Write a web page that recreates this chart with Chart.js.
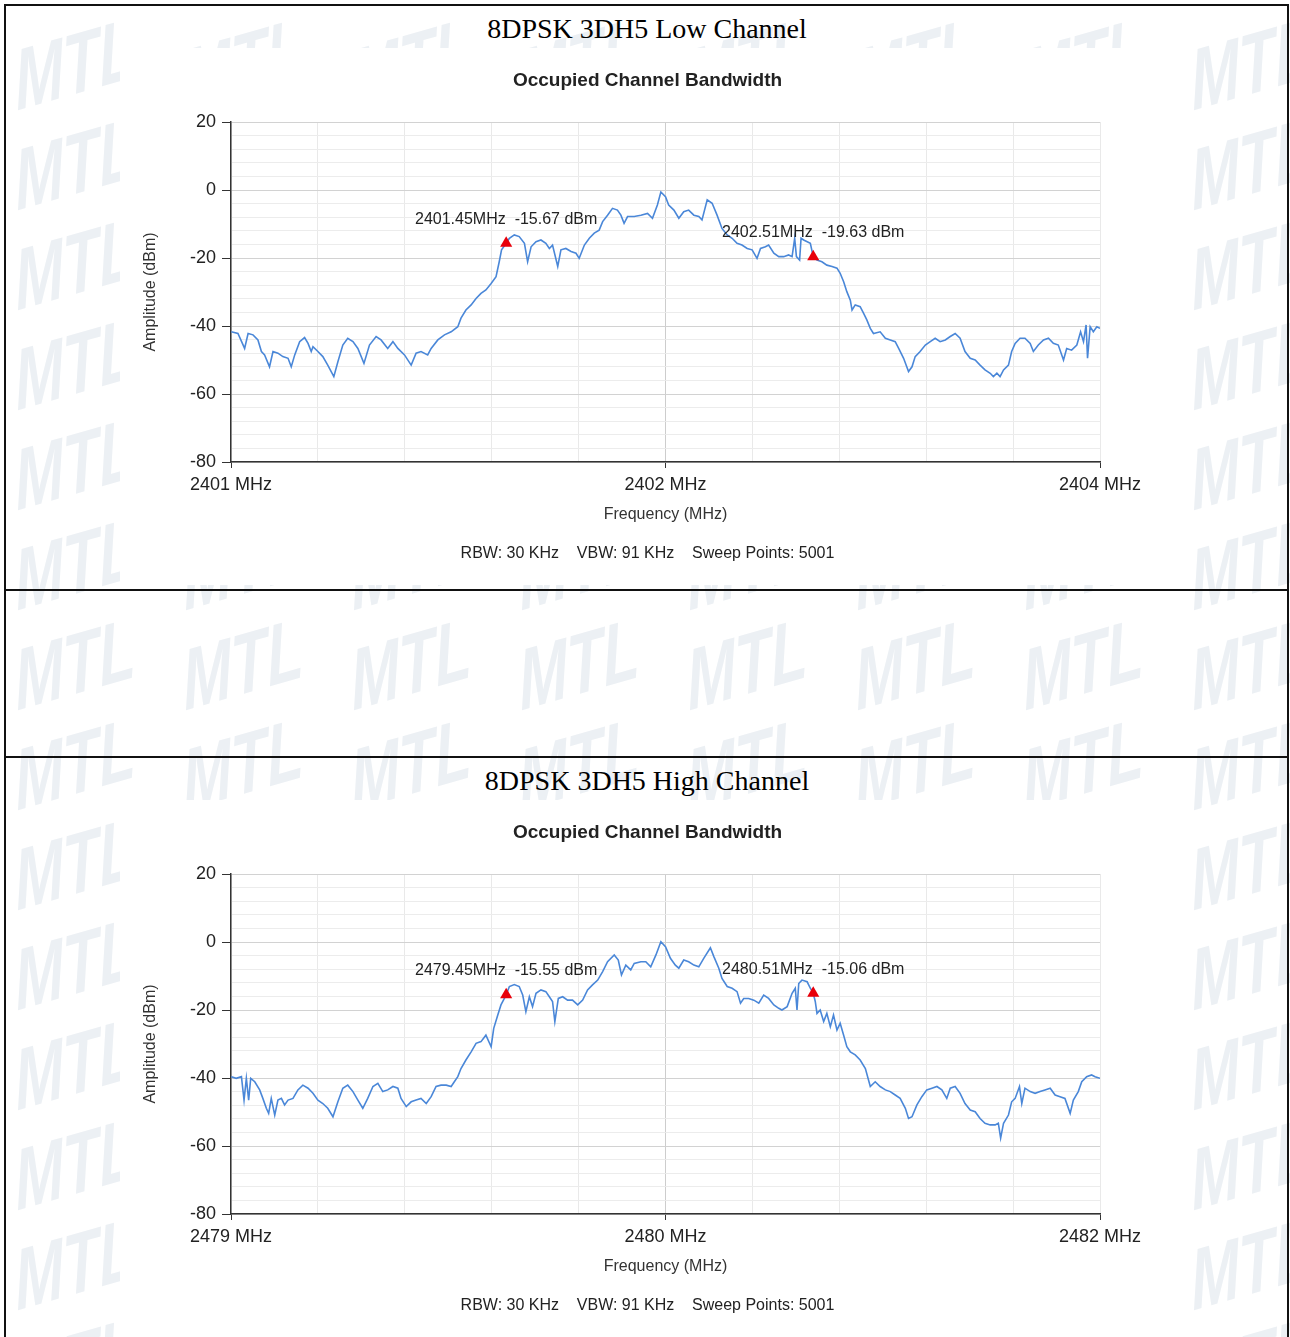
<!DOCTYPE html>
<html>
<head>
<meta charset="utf-8">
<script src="https://cdn.jsdelivr.net/npm/chart.js@4.4.1/dist/chart.umd.min.js"></script>
<style>
  html, body { margin: 0; padding: 0; background: #fff; }
  #page { position: relative; width: 1290px; height: 1337px; overflow: hidden; background: #fff; }
  #wm { position: absolute; left: 0; top: 0; width: 1290px; height: 1337px; }
  .wm {
    position: absolute; white-space: nowrap; line-height: 1;
    font: italic bold 84px "Liberation Sans", Arial, sans-serif; color: #ecf0f4;
    transform: rotate(-16deg) skewX(-12deg) scaleX(0.72); transform-origin: left center;
  }
  .hline { position: absolute; left: 4px; width: 1285px; height: 2px; background: #111; }
  .vline { position: absolute; top: 4px; width: 2px; height: 1333px; background: #111; }
  .head {
    position: absolute; left: 0; width: 1294px; text-align: center; line-height: 30px;
    font: 28px "Liberation Serif", "Times New Roman", serif; color: #000;
  }
  .cbox { position: absolute; left: 120px; width: 1055px; height: 537px; background: #fff; }
</style>
</head>
<body>
<div id="page">
  <div id="wm"></div>
  <div class="hline" style="top:4px"></div>
  <div class="hline" style="top:589px"></div>
  <div class="hline" style="top:756px"></div>
  <div class="vline" style="left:4px"></div>
  <div class="vline" style="left:1287px"></div>
  <div class="head" style="top:13px">8DPSK 3DH5 Low Channel</div>
  <div class="head" style="top:765px">8DPSK 3DH5 High Channel</div>
  <div class="cbox" style="top:48px"><canvas id="lowChart" width="1055" height="537"></canvas></div>
  <div class="cbox" style="top:800px"><canvas id="highChart" width="1055" height="537"></canvas></div>
</div>
<script>
'use strict';

// ---- low channel trace (MHz, dBm) ----
const lowFreq = [
  2400.501, 2400.524, 2400.547, 2400.559, 2400.576, 2400.593, 2400.605, 2400.616, 2400.633, 2400.645,
  2400.662, 2400.679, 2400.697, 2400.708, 2400.720, 2400.737, 2400.754, 2400.766, 2400.777, 2400.783,
  2400.800, 2400.817, 2400.834, 2400.855, 2400.869, 2400.886, 2400.903, 2400.921, 2400.938, 2400.959,
  2400.978, 2401.001, 2401.018, 2401.041, 2401.059, 2401.076, 2401.099, 2401.122, 2401.139, 2401.156,
  2401.179, 2401.191, 2401.214, 2401.237, 2401.260, 2401.283, 2401.294, 2401.311, 2401.329, 2401.346,
  2401.363, 2401.380, 2401.398, 2401.415, 2401.426, 2401.434, 2401.450, 2401.461, 2401.478, 2401.495,
  2401.513, 2401.524, 2401.536, 2401.553, 2401.570, 2401.587, 2401.599, 2401.610, 2401.628, 2401.639,
  2401.656, 2401.674, 2401.691, 2401.702, 2401.720, 2401.737, 2401.754, 2401.771, 2401.783, 2401.800,
  2401.817, 2401.834, 2401.846, 2401.857, 2401.869, 2401.892, 2401.915, 2401.938, 2401.955, 2401.972,
  2401.984, 2402.000, 2402.011, 2402.029, 2402.046, 2402.063, 2402.080, 2402.098, 2402.115, 2402.126,
  2402.144, 2402.161, 2402.178, 2402.195, 2402.213, 2402.230, 2402.247, 2402.264, 2402.282, 2402.299,
  2402.316, 2402.328, 2402.345, 2402.356, 2402.374, 2402.391, 2402.408, 2402.425, 2402.437, 2402.446,
  2402.452, 2402.463, 2402.468, 2402.477, 2402.500, 2402.510, 2402.523, 2402.540, 2402.557, 2402.575,
  2402.592, 2402.603, 2402.615, 2402.626, 2402.638, 2402.644, 2402.655, 2402.672, 2402.684, 2402.695,
  2402.707, 2402.718, 2402.741, 2402.759, 2402.776, 2402.793, 2402.805, 2402.822, 2402.839, 2402.851,
  2402.862, 2402.879, 2402.897, 2402.914, 2402.931, 2402.948, 2402.966, 2402.983, 2403.000, 2403.017,
  2403.034, 2403.052, 2403.069, 2403.086, 2403.103, 2403.121, 2403.132, 2403.144, 2403.155, 2403.167,
  2403.184, 2403.195, 2403.207, 2403.224, 2403.241, 2403.259, 2403.270, 2403.287, 2403.305, 2403.322,
  2403.339, 2403.356, 2403.374, 2403.385, 2403.402, 2403.420, 2403.433, 2403.443, 2403.452, 2403.457,
  2403.466, 2403.477, 2403.489, 2403.500
];
const lowAmp = [
  -41.7, -42.2, -46.6, -42.2, -42.6, -44.1, -47.5, -48.5, -52.0, -47.5,
  -48.0, -49.0, -49.5, -52.0, -48.5, -44.6, -43.4, -45.1, -47.5, -46.1,
  -47.5, -49.0, -51.5, -54.9, -50.5, -45.6, -43.6, -44.6, -46.6, -51.0,
  -45.6, -43.1, -44.1, -46.6, -44.6, -46.6, -48.5, -51.5, -48.0, -47.5,
  -48.5, -46.6, -44.1, -42.6, -41.7, -40.2, -37.7, -35.3, -33.8, -31.9,
  -30.4, -29.4, -27.5, -25.5, -21.1, -17.6, -15.67, -14.2, -13.2, -13.7,
  -15.7, -21.1, -16.7, -15.2, -14.7, -15.7, -17.2, -16.2, -22.5, -17.6,
  -17.2, -18.1, -18.6, -20.1, -16.2, -14.2, -12.7, -11.8, -9.3, -7.4,
  -5.4, -5.9, -7.4, -9.8, -7.8, -7.8, -7.4, -6.9, -8.3, -4.4,
  -0.6, -2.0, -4.4, -5.9, -8.3, -6.4, -5.9, -7.4, -7.8, -8.8,
  -2.9, -3.9, -7.4, -11.3, -13.2, -14.2, -15.7, -16.2, -17.2, -17.6,
  -20.1, -17.2, -16.7, -16.2, -18.6, -19.6, -19.6, -19.1, -19.6, -14.2,
  -19.6, -20.6, -14.2, -14.7, -15.7, -19.63, -20.6, -21.1, -22.1, -22.5,
  -23.0, -24.5, -27.0, -29.9, -32.4, -35.3, -33.8, -34.3, -36.3, -38.2,
  -40.7, -42.2, -41.7, -43.6, -44.1, -44.6, -46.6, -49.5, -53.4, -52.0,
  -49.0, -47.5, -45.6, -44.6, -43.6, -44.6, -44.1, -43.1, -42.2, -43.6,
  -47.5, -49.5, -50.0, -51.5, -52.9, -53.9, -54.9, -53.9, -54.9, -52.9,
  -51.5, -47.5, -45.1, -43.6, -43.6, -45.1, -47.5, -45.6, -44.1, -43.6,
  -45.1, -45.6, -50.0, -46.6, -47.1, -45.6, -41.7, -44.6, -39.7, -49.5,
  -40.2, -41.7, -40.2, -40.7
];

// ---- high channel trace (MHz, dBm) ----
const highFreq = [
  2478.501, 2478.518, 2478.536, 2478.545, 2478.553, 2478.561, 2478.568, 2478.582, 2478.599, 2478.610,
  2478.622, 2478.630, 2478.639, 2478.651, 2478.662, 2478.674, 2478.685, 2478.697, 2478.714, 2478.731,
  2478.748, 2478.766, 2478.783, 2478.800, 2478.817, 2478.834, 2478.852, 2478.869, 2478.886, 2478.903,
  2478.921, 2478.938, 2478.955, 2478.972, 2478.990, 2479.007, 2479.024, 2479.041, 2479.059, 2479.076,
  2479.087, 2479.105, 2479.122, 2479.139, 2479.156, 2479.174, 2479.191, 2479.208, 2479.225, 2479.243,
  2479.260, 2479.271, 2479.283, 2479.294, 2479.311, 2479.329, 2479.346, 2479.363, 2479.380, 2479.398,
  2479.407, 2479.421, 2479.432, 2479.450, 2479.461, 2479.478, 2479.495, 2479.507, 2479.518, 2479.530,
  2479.541, 2479.553, 2479.570, 2479.587, 2479.599, 2479.610, 2479.618, 2479.630, 2479.645, 2479.662,
  2479.679, 2479.697, 2479.714, 2479.731, 2479.748, 2479.766, 2479.783, 2479.800, 2479.823, 2479.837,
  2479.848, 2479.863, 2479.880, 2479.892, 2479.915, 2479.932, 2479.949, 2479.967, 2479.984, 2480.000,
  2480.017, 2480.034, 2480.046, 2480.063, 2480.080, 2480.098, 2480.115, 2480.132, 2480.155, 2480.167,
  2480.184, 2480.195, 2480.213, 2480.230, 2480.247, 2480.259, 2480.270, 2480.287, 2480.305, 2480.322,
  2480.339, 2480.356, 2480.374, 2480.391, 2480.402, 2480.420, 2480.437, 2480.448, 2480.454, 2480.460,
  2480.471, 2480.489, 2480.500, 2480.510, 2480.517, 2480.523, 2480.534, 2480.546, 2480.557, 2480.569,
  2480.580, 2480.592, 2480.603, 2480.615, 2480.626, 2480.638, 2480.655, 2480.672, 2480.690, 2480.707,
  2480.724, 2480.741, 2480.759, 2480.776, 2480.793, 2480.810, 2480.828, 2480.839, 2480.851, 2480.868,
  2480.885, 2480.902, 2480.920, 2480.937, 2480.954, 2480.971, 2480.983, 2481.000, 2481.017, 2481.034,
  2481.052, 2481.069, 2481.086, 2481.103, 2481.121, 2481.138, 2481.149, 2481.157, 2481.167, 2481.184,
  2481.195, 2481.207, 2481.222, 2481.230, 2481.241, 2481.259, 2481.276, 2481.293, 2481.310, 2481.328,
  2481.345, 2481.362, 2481.379, 2481.397, 2481.408, 2481.425, 2481.437, 2481.454, 2481.471, 2481.483,
  2481.500
];
const highAmp = [
  -39.6, -40.1, -39.6, -46.5, -40.1, -46.5, -40.1, -41.1, -43.5, -46.0,
  -48.9, -50.4, -46.0, -50.9, -46.5, -46.0, -47.9, -46.5, -46.0, -43.5,
  -42.1, -43.0, -44.5, -46.5, -47.5, -48.9, -51.4, -47.0, -43.0, -42.1,
  -44.0, -46.5, -48.9, -46.0, -42.5, -41.6, -44.0, -43.5, -42.5, -43.0,
  -46.0, -48.4, -47.0, -46.5, -46.0, -47.5, -45.5, -42.5, -42.1, -42.1,
  -42.5, -41.1, -39.6, -37.2, -34.7, -32.3, -29.8, -29.3, -27.4, -30.8,
  -25.4, -21.5, -18.5, -15.55, -13.1, -12.5, -13.1, -15.6, -20.5, -16.1,
  -19.0, -15.1, -14.1, -14.6, -16.1, -17.5, -23.4, -16.6, -16.1, -17.1,
  -17.1, -18.5, -17.1, -14.1, -12.6, -11.2, -8.7, -5.8, -3.8, -5.3,
  -9.7, -6.8, -8.2, -6.3, -5.8, -5.8, -7.3, -3.8, 0.1, -1.4,
  -4.8, -6.8, -7.7, -5.3, -5.8, -6.8, -7.3, -4.8, -1.7, -4.3,
  -7.7, -10.7, -13.1, -13.6, -14.6, -18.0, -16.6, -16.6, -17.1, -18.0,
  -15.6, -16.6, -18.5, -19.5, -20.0, -19.0, -15.1, -13.6, -20.0, -12.2,
  -11.2, -11.7, -13.6, -15.06, -17.5, -21.0, -20.0, -23.4, -21.0, -24.9,
  -21.5, -25.9, -23.9, -27.4, -30.8, -32.3, -33.2, -34.7, -37.2, -42.5,
  -41.1, -42.5, -43.5, -44.0, -45.0, -46.0, -48.9, -51.9, -51.4, -47.9,
  -45.5, -43.5, -43.0, -42.5, -43.5, -46.0, -43.0, -42.5, -44.5, -47.5,
  -49.4, -49.9, -51.9, -53.3, -53.8, -53.8, -53.3, -57.7, -53.3, -50.9,
  -47.0, -46.0, -42.5, -47.5, -43.0, -44.0, -44.5, -44.0, -43.5, -43.0,
  -45.0, -45.5, -46.0, -50.4, -46.5, -44.0, -41.1, -39.6, -39.1, -39.6,
  -40.1
];

// ---- markers ----
const lowMarkerFreq = [2401.45, 2402.51];
const lowMarkerAmp = [-15.67, -19.63];
const lowMarkerText = ['2401.45MHz  -15.67 dBm', '2402.51MHz  -19.63 dBm'];
const highMarkerFreq = [2479.45, 2480.51];
const highMarkerAmp = [-15.55, -15.06];
const highMarkerText = ['2479.45MHz  -15.55 dBm', '2480.51MHz  -15.06 dBm'];

// ---- axes ----
const lowXTicks = [2400.5, 2400.8, 2401.1, 2401.4, 2401.7, 2402.0, 2402.3, 2402.6, 2402.9, 2403.2, 2403.5];
const lowXTickLabels = ['2401 MHz', '', '', '', '', '2402 MHz', '', '', '', '', '2404 MHz'];
const highXTicks = [2478.5, 2478.8, 2479.1, 2479.4, 2479.7, 2480.0, 2480.3, 2480.6, 2480.9, 2481.2, 2481.5];
const highXTickLabels = ['2479 MHz', '', '', '', '', '2480 MHz', '', '', '', '', '2482 MHz'];
const yMin = -80;
const yMax = 20;

const chartTitle = 'Occupied Channel Bandwidth';
const xTitle = 'Frequency (MHz)';
const yTitle = 'Amplitude (dBm)';
const sweepInfo = 'RBW: 30 KHz    VBW: 91 KHz    Sweep Points: 5001';

// watermark
const wm = document.getElementById('wm');
for (let k = 0; k < 8; k++) {
  for (let j = 0; j < 14; j++) {
    const s = document.createElement('div');
    s.className = 'wm';
    s.textContent = 'MTL';
    s.style.left = (15 + 168 * k) + 'px';
    s.style.top = (33 + 100 * j) + 'px';
    wm.appendChild(s);
  }
}

Chart.defaults.font.family = '"Liberation Sans", Arial, sans-serif';

const markerText = {
  id: 'markerText',
  afterDatasetsDraw(chart, args, opts) {
    const meta = chart.getDatasetMeta(1);
    const ctx = chart.ctx;
    ctx.save();
    ctx.font = '16px "Liberation Sans", Arial, sans-serif';
    ctx.fillStyle = '#222';
    ctx.textAlign = 'center';
    ctx.textBaseline = 'middle';
    meta.data.forEach((pt, i) => {
      ctx.fillText(opts.labels[i], pt.x, pt.y - 24);
    });
    ctx.restore();
  }
};

function createChart(canvasId, freq, amp, mFreq, mAmp, mText, xTicks, xTickLabels) {
  const ctx = document.getElementById(canvasId).getContext('2d');
  new Chart(ctx, {
    type: 'line',
    data: {
      datasets: [
        {
          data: freq.map((f, i) => ({ x: f, y: amp[i] })),
          borderColor: '#4a87d8',
          borderWidth: 1.6,
          pointRadius: 0,
          tension: 0,
          fill: false,
          order: 1,
        },
        {
          type: 'scatter',
          data: mFreq.map((f, i) => ({ x: f, y: mAmp[i] })),
          pointStyle: 'triangle',
          pointRadius: 7,
          backgroundColor: '#e8000b',
          borderColor: '#e8000b',
          borderWidth: 0,
          order: 0,
        },
      ],
    },
    options: {
      responsive: false,
      animation: false,
      devicePixelRatio: 1,
      layout: { padding: 0 },
      plugins: {
        legend: { display: false },
        tooltip: { enabled: false },
        title: {
          display: true,
          text: chartTitle,
          color: '#222',
          font: { size: 19, weight: 'bold' },
          padding: { top: 21.6, bottom: 29.6 },
        },
        subtitle: {
          display: true,
          position: 'bottom',
          text: sweepInfo,
          color: '#222',
          font: { size: 16 },
          padding: { top: 16.4, bottom: 21.4 },
        },
        markerText: { labels: mText },
      },
      scales: {
        x: {
          type: 'linear',
          min: xTicks[0],
          max: xTicks[xTicks.length - 1],
          afterBuildTicks: s => { s.ticks = xTicks.map(v => ({ value: v })); },
          afterFit: s => { s.height = 66; s.paddingLeft = 0; s.paddingRight = 75; },
          ticks: {
            autoSkip: false,
            maxRotation: 0,
            padding: 6,
            color: '#222',
            font: { size: 18 },
            callback: (v, i) => xTickLabels[i],
          },
          grid: {
            color: c => (c.index === 5 ? '#cdcdcd' : '#e9e9e9'),
            tickColor: c => (xTickLabels[c.index] ? '#333' : 'rgba(0,0,0,0)'),
            tickLength: 6,
          },
          border: { color: '#333', width: 1.5 },
          title: {
            display: true,
            text: xTitle,
            color: '#333',
            font: { size: 16 },
            padding: { top: 7, bottom: 4 },
          },
        },
        y: {
          type: 'linear',
          min: yMin,
          max: yMax,
          afterFit: s => { s.width = 111; s.paddingTop = 0; s.paddingBottom = 0; },
          ticks: {
            stepSize: 4,
            autoSkip: false,
            padding: 6,
            color: '#222',
            font: { size: 18 },
            callback: v => (v % 20 === 0 ? String(v) : ''),
          },
          grid: {
            color: c => (c.tick.value % 20 === 0 ? '#d2d2d2' : '#ececec'),
            tickColor: c => (c.tick.value % 20 === 0 ? '#333' : 'rgba(0,0,0,0)'),
            tickLength: 9,
          },
          border: { color: '#333', width: 1.5 },
          title: {
            display: true,
            text: yTitle,
            color: '#333',
            font: { size: 16 },
            padding: { top: 21, bottom: 0 },
          },
        },
      },
    },
    plugins: [markerText],
  });
}

createChart('lowChart', lowFreq, lowAmp, lowMarkerFreq, lowMarkerAmp, lowMarkerText, lowXTicks, lowXTickLabels);
createChart('highChart', highFreq, highAmp, highMarkerFreq, highMarkerAmp, highMarkerText, highXTicks, highXTickLabels);
</script>
</body>
</html>
